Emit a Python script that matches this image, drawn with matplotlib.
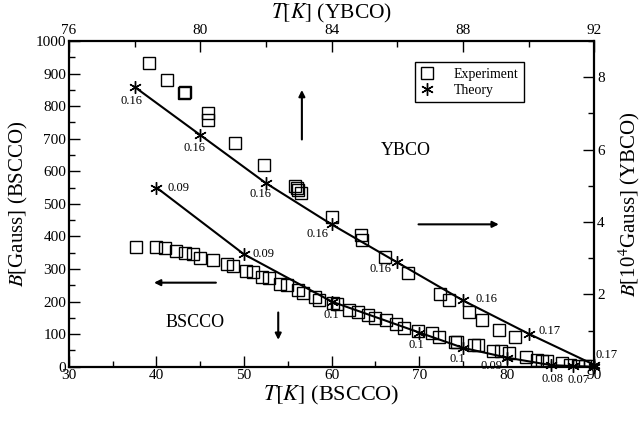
import matplotlib
matplotlib.use('Agg')
import matplotlib.pyplot as plt
from matplotlib.ticker import MultipleLocator
from matplotlib.lines import Line2D

plt.rcParams['font.family'] = ['Liberation Serif', 'DejaVu Serif']
plt.rcParams['mathtext.fontset'] = 'stix'

# ---------------- data ----------------
# BSCCO (bottom / left axes)
bscco_exp_T = [37.7, 40.0, 41.0, 42.2, 43.3, 44.2, 45.0, 46.4, 48.1, 48.7, 50.2, 51.0,
               52.1, 52.9, 54.1, 54.9, 56.2, 56.7, 58.1, 58.6, 60.1, 60.6, 62.0, 63.0,
               64.1, 65.0, 66.2, 67.3, 68.3, 69.9, 71.5, 72.2, 74.1, 74.3, 76.3, 76.7,
               78.4, 79.3, 80.3, 82.2, 83.4, 84.0, 84.6, 86.3, 87.2, 88.1, 88.9, 89.5]
bscco_exp_B = [369, 369, 363, 354, 348, 345, 335, 329, 314, 308, 295, 292,
               274, 271, 255, 252, 234, 225, 215, 206, 197, 191, 175, 169,
               160, 151, 142, 132, 120, 111, 102, 92, 77, 75, 68, 66,
               49, 47, 43, 29, 21, 18, 18, 11, 6, 2, 2, 3]
bscco_th_T = [40, 50, 60, 70, 75, 80, 85, 87.5, 90]
bscco_th_B = [550, 345, 200, 105, 58, 28, 5, 2, 0]
bscco_th_lbl = ['0.09', '0.09', '0.1', '0.1', '0.1', '0.09', '0.08', '0.07', '']

# YBCO (top / right axes), B in 10^4 Gauss
ybco_exp_T = [78.45, 79.0, 79.49, 79.52, 80.22, 80.25, 81.07, 81.93, 82.87, 82.93,
              82.98, 83.07, 84.0, 84.88, 84.92, 85.62, 86.32, 87.29, 87.57, 88.18,
              88.57, 89.09, 89.58]
ybco_exp_B = [8.39, 7.92, 7.56, 7.58, 7.01, 6.81, 6.17, 5.57, 4.98, 4.93,
              4.87, 4.79, 4.13, 3.63, 3.49, 3.02, 2.58, 2.02, 1.83, 1.52,
              1.30, 1.02, 0.83]
ybco_th_T = [78, 80, 82, 84, 86, 88, 90, 92]
ybco_th_B = [7.73, 6.40, 5.07, 3.93, 2.88, 1.83, 0.91, 0.05]
ybco_th_lbl = ['0.16', '0.16', '0.16', '0.16', '0.16', '0.16', '0.17', '0.17']

# label offsets (points)
bscco_off = [(16, 0), (14, 0), (0, -10), (-2, -9), (-4, -8), (-11, -6), (1, -10), (4, -10), (0, 0)]
ybco_off = [(-2, -10), (-4, -9), (-4, -8), (-10, -7), (-12, -5), (17, 1), (15, 2), (9, 7)]

# ---------------- figure ----------------
fig = plt.figure(figsize=(6.44, 4.22), dpi=100)
pos = [0.107, 0.131, 0.816, 0.772]
ax = fig.add_axes(pos)
ax2 = fig.add_axes(pos, frameon=False)

ax.set_xlim(30, 90)
ax.set_ylim(0, 1000)
ax2.set_xlim(76, 92)
ax2.set_ylim(0, 9)

ax2.xaxis.tick_top()
ax2.yaxis.tick_right()
ax2.xaxis.set_label_position('top')
ax2.yaxis.set_label_position('right')

ax.xaxis.set_major_locator(MultipleLocator(10))
ax.xaxis.set_minor_locator(MultipleLocator(5))
ax.yaxis.set_major_locator(MultipleLocator(100))
ax.yaxis.set_minor_locator(MultipleLocator(50))
ax2.xaxis.set_major_locator(MultipleLocator(4))
ax2.xaxis.set_minor_locator(MultipleLocator(2))
ax2.yaxis.set_major_locator(MultipleLocator(2))
ax2.yaxis.set_minor_locator(MultipleLocator(1))
ax2.set_yticks([2, 4, 6, 8])

for a in (ax, ax2):
    a.tick_params(which='major', direction='in', length=8, width=1.0, labelsize=11, pad=2)
    a.tick_params(which='minor', direction='in', length=4, width=1.0)
ax.tick_params(top=False, right=False, which='both')
ax2.tick_params(bottom=False, left=False, top=True, right=True, which='both')
ax2.tick_params(axis='x', which='major', pad=3)
for s in ax.spines.values():
    s.set_linewidth(1.6)

ax.set_xlabel(r'$T[K]$ (BSCCO)', fontsize=16, labelpad=1)
ax.set_ylabel(r'$B$[Gauss] (BSCCO)', fontsize=15, labelpad=4)
ax2.set_xlabel(r'$T[K]$ (YBCO)', fontsize=15.5, labelpad=4)
ax2.set_ylabel(r'$B$[10$^4$Gauss] (YBCO)', fontsize=15, labelpad=8)

sq = dict(marker='s', ms=8, mfc='none', mec='black', mew=1.0, ls='none')
st = dict(marker=(6, 2, 0), ms=9, color='black', mew=1.0, ls='none')

# BSCCO
ax.plot(bscco_th_T, bscco_th_B, '-', color='black', lw=1.5)
ax.plot(bscco_exp_T, bscco_exp_B, **sq)
ax.plot(bscco_th_T, bscco_th_B, clip_on=False, **st)
for t, b, l, o in zip(bscco_th_T, bscco_th_B, bscco_th_lbl, bscco_off):
    if l:
        ax.annotate(l, (t, b), xytext=o, textcoords='offset points', fontsize=9,
                    ha='center', va='center', annotation_clip=False)

# YBCO
ax2.plot(ybco_th_T, ybco_th_B, '-', color='black', lw=1.5, clip_on=False)
ax2.plot(ybco_exp_T, ybco_exp_B, **sq)
ax2.plot(ybco_th_T, ybco_th_B, clip_on=False, **st)
for t, b, l, o in zip(ybco_th_T, ybco_th_B, ybco_th_lbl, ybco_off):
    ax2.annotate(l, (t, b), xytext=o, textcoords='offset points', fontsize=9,
                 ha='center', va='center', annotation_clip=False)

# texts and arrows (BSCCO data coordinates)
arrow = dict(arrowstyle='-|>', color='black', lw=1.5, mutation_scale=9)
ax.annotate('', xy=(56.6, 858), xytext=(56.6, 689), arrowprops=arrow)
ax.annotate('', xy=(79.4, 437), xytext=(69.6, 437), arrowprops=arrow)
ax.annotate('', xy=(39.4, 258), xytext=(47.1, 258), arrowprops=arrow)
ax.annotate('', xy=(53.9, 74), xytext=(53.9, 175), arrowprops=arrow)
ax.text(68.5, 665, 'YBCO', fontsize=13, ha='center', va='center')
ax.text(44.4, 135, 'BSCCO', fontsize=13, ha='center', va='center')

handles = [Line2D([], [], **sq), Line2D([], [], **st)]
leg = ax.legend(handles, ['Experiment', 'Theory'], loc='upper left',
                bbox_to_anchor=(0.644, 0.852), bbox_transform=fig.transFigure,
                fontsize=10, frameon=True, fancybox=False, edgecolor='black',
                framealpha=1, handlelength=1.0, handletextpad=1.4,
                borderpad=0.4, labelspacing=0.2, borderaxespad=0)
leg.get_frame().set_linewidth(1.0)

fig.savefig('out.png', dpi=100)
